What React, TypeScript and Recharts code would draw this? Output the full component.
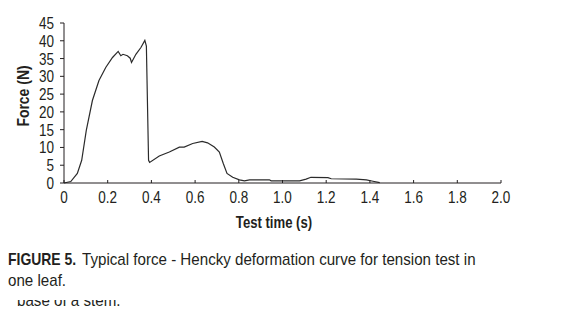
import React from 'react';
import { LineChart, Line, XAxis, YAxis } from 'recharts';

// test time (s) and force (N)
const times = [
  0, 0.031, 0.061, 0.081, 0.102, 0.13, 0.16, 0.191, 0.222, 0.248, 0.26, 0.27, 0.29, 0.303, 0.309,
  0.329, 0.352, 0.37, 0.377, 0.387, 0.392, 0.436, 0.482, 0.528, 0.55, 0.589, 0.632, 0.657, 0.688,
  0.711, 0.729, 0.746, 0.772, 0.803, 0.826, 0.849, 0.94, 0.948, 1.078, 1.108, 1.13, 1.208, 1.223,
  1.338, 1.384, 1.414, 1.445,
];
const forces = [
  0, 0.4, 2.7, 6.4, 14.8, 23.2, 28.8, 32.5, 35.3, 37.0, 35.8, 36.2, 35.8, 35.1, 33.9,
  36.2, 38.1, 40.1, 38.5, 6.4, 5.8, 7.6, 8.7, 10.1, 10.1, 11.1, 11.7, 11.3, 10.1,
  8.7, 5.5, 2.7, 1.6, 0.9, 0.6, 0.9, 0.9, 0.6, 0.6, 1.1, 1.6, 1.5, 1.2,
  1.1, 0.9, 0.5, 0.1,
];
const xTicks = [0, 0.2, 0.4, 0.6, 0.8, 1.0, 1.2, 1.4, 1.6, 1.8, 2.0];
const yTicks = [0, 5, 10, 15, 20, 25, 30, 35, 40, 45];

const captionMain = 'FIGURE 5.';
const captionRest = 'Typical force - Hencky deformation curve for tension test in';
const captionLine2 = 'one leaf.';
const captionCut = 'base of a stem.';

const data = times.map((t, i) => ({ t, f: forces[i] }));

// no narrow font installed, so squeeze Liberation Sans sideways
const font = "'Liberation Sans', Arial, sans-serif";
const squeeze = 0.82;
const squeezeText = 0.89;
const ink = '#231f20';

function XTick(props: any) {
  const { x, y, payload } = props;
  const v = payload.value;
  const label = v === 0 ? '0' : v.toFixed(1);
  return (
    <g>
      <line x1={x} y1={y} x2={x} y2={y - 3} stroke={ink} strokeWidth={1} />
      <text
        transform={`translate(${x},${y + 20}) scale(${squeeze},1)`}
        textAnchor="middle"
        fill={ink}
        fontSize={16.5}
        fontFamily={font}
      >
        {label}
      </text>
    </g>
  );
}

function YTick(props: any) {
  const { x, y, payload } = props;
  return (
    <text
      transform={`translate(${x},${y + 6}) scale(${squeeze},1)`}
      textAnchor="end"
      fill={ink}
      fontSize={16.5}
      fontFamily={font}
    >
      {payload.value}
    </text>
  );
}

const captionLine: React.CSSProperties = {
  position: 'absolute',
  fontSize: 17,
  lineHeight: '17px',
  whiteSpace: 'nowrap',
  transform: `scaleX(${squeezeText})`,
  transformOrigin: 'left top',
};

export default function App() {
  return (
    <div
      style={{
        position: 'absolute',
        left: 0,
        top: 0,
        width: 564,
        height: 318,
        background: '#fff',
        overflow: 'hidden',
        fontFamily: font,
        color: ink,
      }}
    >
      <LineChart width={564} height={240} data={data} margin={{ top: 23, right: 63, left: 0, bottom: 0 }}>
        <XAxis
          type="number"
          dataKey="t"
          domain={[0, 2]}
          ticks={xTicks}
          interval={0}
          height={57}
          tickSize={0}
          tickMargin={0}
          tickLine={false}
          axisLine={{ stroke: ink, strokeWidth: 1 }}
          tick={<XTick />}
        />
        <YAxis
          type="number"
          domain={[0, 45]}
          ticks={yTicks}
          interval={0}
          width={64}
          tickSize={4}
          tickMargin={6}
          axisLine={{ stroke: ink, strokeWidth: 1 }}
          tickLine={{ stroke: ink, strokeWidth: 1 }}
          tick={<YTick />}
        />
        <Line
          type="linear"
          dataKey="f"
          stroke="#2b2b2b"
          strokeWidth={1.2}
          dot={false}
          isAnimationActive={false}
        />
      </LineChart>

      <div
        style={{
          position: 'absolute',
          left: 23,
          top: 96,
          transform: `translate(-50%, -50%) rotate(-90deg) scaleX(${squeeze})`,
          fontWeight: 'bold',
          fontSize: 17,
          lineHeight: '17px',
          whiteSpace: 'nowrap',
        }}
      >
        Force (N)
      </div>
      <div
        style={{
          position: 'absolute',
          left: 274,
          top: 223,
          transform: `translate(-50%, -50%) scaleX(${squeeze})`,
          fontWeight: 'bold',
          fontSize: 16,
          lineHeight: '16px',
          whiteSpace: 'nowrap',
        }}
      >
        Test time (s)
      </div>

      <div style={{ ...captionLine, left: 8, top: 250.9, fontWeight: 'bold', transform: `scaleX(${squeeze})` }}>
        {captionMain}
      </div>
      <div style={{ ...captionLine, left: 82, top: 250.9 }}>{captionRest}</div>
      <div style={{ ...captionLine, left: 8, top: 271.9 }}>{captionLine2}</div>
      <div style={{ position: 'absolute', left: 0, top: 299.5, height: 8, width: 400, overflow: 'hidden' }}>
        <div style={{ ...captionLine, left: 17, top: -7.2 }}>{captionCut}</div>
      </div>
    </div>
  );
}
